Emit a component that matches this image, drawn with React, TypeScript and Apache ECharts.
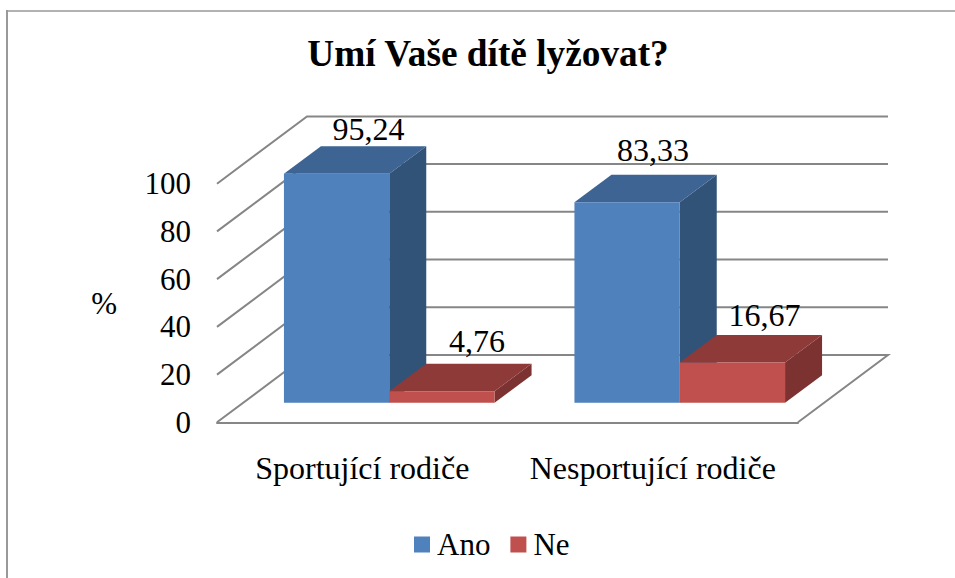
import React, { useEffect, useRef } from "react";
import * as echarts from "echarts";

const titleText = "Umí Vaše dítě lyžovat?";
const categories = ["Sportující rodiče", "Nesportující rodiče"];
const seriesNames = ["Ano", "Ne"];
const anoValues = [95.24, 83.33];
const neValues = [4.76, 16.67];
const ticks = [0, 20, 40, 60, 80, 100];
const axisName = "%";

const FONT = "Liberation Serif";
const GRID_COLOR = "#868686";
const BAR_COLORS = [
  { front: "#4F81BD", top: "#3D6492", side: "#325378" },
  { front: "#C0504D", top: "#8E3A38", side: "#7B3230" },
];
// Oblique projection used to fake the 3D box
const WALL = { dx: 90, dy: 67.3 };
const BAR_INSET = { dx: 27, dy: 19.6 };
const BAR_DEPTH = { dx: 37, dy: 27.5 };
const BAR_WIDTH_RATIO = 0.3625;
const BAR_SCALE = 1.008;
const LABEL_NUDGE = [
  [{ x: 32, y: -45 }, { x: 26, y: -52 }],
  [{ x: 35, y: -50 }, { x: 32, y: -48 }],
];

function renderGrid(params: any, api: any) {
  const cs = params.coordSys;
  const y = api.coord([0, api.value(1)])[1];
  const v = api.value(1);
  const left = cs.x;
  const right = cs.x + cs.width;
  const style = { stroke: GRID_COLOR, lineWidth: 2, fill: "none" };
  const pts = [
    [left, y],
    [left + WALL.dx, y - WALL.dy],
    [right + WALL.dx, y - WALL.dy],
  ];
  if (v === 0) pts.push([right, y]);
  return { type: "polyline", shape: { points: pts }, style };
}

function makeBarRenderer(seriesIdx: number) {
  return (params: any, api: any) => {
    const cat = api.value(0);
    const val = api.value(1);
    const base = api.coord([cat, 0]);
    const w = api.size([1, 0])[0] * BAR_WIDTH_RATIO;
    const h = api.size([0, val])[1] * BAR_SCALE;
    const c = BAR_COLORS[seriesIdx];
    const x0 = base[0] + BAR_INSET.dx + (seriesIdx === 0 ? -w : 0);
    const x1 = x0 + w;
    const yb = base[1] - BAR_INSET.dy;
    const yt = yb - h;
    const dx = BAR_DEPTH.dx;
    const dy = BAR_DEPTH.dy;
    const nudge = LABEL_NUDGE[seriesIdx][params.dataIndex];
    return {
      type: "group",
      children: [
        {
          type: "polygon",
          shape: { points: [[x1, yt], [x1 + dx, yt - dy], [x1 + dx, yb - dy], [x1, yb]] },
          style: { fill: c.side },
        },
        {
          type: "polygon",
          shape: { points: [[x0, yt], [x0 + dx, yt - dy], [x1 + dx, yt - dy], [x1, yt]] },
          style: { fill: c.top },
        },
        {
          type: "rect",
          shape: { x: x0, y: yt, width: w, height: h },
          style: { fill: c.front },
        },
        {
          type: "text",
          x: (x0 + x1) / 2 + nudge.x,
          y: yt + nudge.y,
          style: {
            text: String(val).replace(".", ","),
            fontFamily: FONT,
            fontSize: 32,
            fill: "#000",
            align: "center",
            verticalAlign: "middle",
          },
        },
      ],
    };
  };
}

export default function App() {
  const ref = useRef<HTMLDivElement>(null);
  useEffect(() => {
    if (!ref.current) return;
    const chart = echarts.init(ref.current, undefined, { renderer: "svg" });
    chart.setOption({
      animation: false,
      backgroundColor: "#fff",
      textStyle: { fontFamily: FONT },
      title: {
        text: titleText,
        left: 483,
        top: 30,
        textAlign: "center",
        textStyle: { fontFamily: FONT, fontWeight: "bold", fontSize: 37.3, color: "#000" },
      },
      legend: {
        data: seriesNames,
        left: 414,
        top: 529,
        icon: "rect",
        itemWidth: 16,
        itemHeight: 16,
        itemGap: 20,
        padding: 0,
        textStyle: { fontFamily: FONT, fontSize: 31, color: "#000", padding: [0, 0, 0, 2] },
      },
      grid: { left: 217, right: 157, top: 183.7, bottom: 155.7 },
      xAxis: {
        type: "category",
        data: categories,
        axisTick: { show: false },
        axisLine: { show: true, lineStyle: { color: GRID_COLOR, width: 2 } },
        axisLabel: { fontFamily: FONT, fontSize: 32, color: "#000", margin: 30, interval: 0, hideOverlap: false },
        splitLine: { show: false },
      },
      yAxis: {
        type: "value",
        min: 0,
        max: 100,
        interval: 20,
        name: axisName,
        nameLocation: "middle",
        nameRotate: 0,
        nameGap: 100,
        nameTextStyle: { fontFamily: FONT, fontSize: 31, color: "#000" },
        axisLine: { show: false },
        axisTick: { show: false },
        splitLine: { show: false },
        axisLabel: { fontFamily: FONT, fontSize: 31, color: "#000", margin: 26 },
      },
      graphic: [
        { type: "line", shape: { x1: 7, y1: 11, x2: 955, y2: 11 }, style: { stroke: "#999", lineWidth: 1.5 } },
        { type: "line", shape: { x1: 7, y1: 10, x2: 7, y2: 578 }, style: { stroke: "#999", lineWidth: 2 } },
      ],
      series: [
        {
          type: "custom",
          name: "grid",
          silent: true,
          clip: false,
          renderItem: renderGrid,
          data: ticks.map((t) => [0, t]),
          encode: { x: 0, y: 1 },
        },
        {
          type: "custom",
          name: seriesNames[0],
          clip: false,
          itemStyle: { color: BAR_COLORS[0].front },
          renderItem: makeBarRenderer(0),
          data: anoValues.map((v, i) => [i, v]),
          encode: { x: 0, y: 1 },
        },
        {
          type: "custom",
          name: seriesNames[1],
          clip: false,
          itemStyle: { color: BAR_COLORS[1].front },
          renderItem: makeBarRenderer(1),
          data: neValues.map((v, i) => [i, v]),
          encode: { x: 0, y: 1 },
        },
      ],
    });
    return () => chart.dispose();
  }, []);
  return (
    <div
      ref={ref}
      style={{ position: "fixed", left: 0, top: 0, width: 955, height: 578, background: "#fff" }}
    />
  );
}
